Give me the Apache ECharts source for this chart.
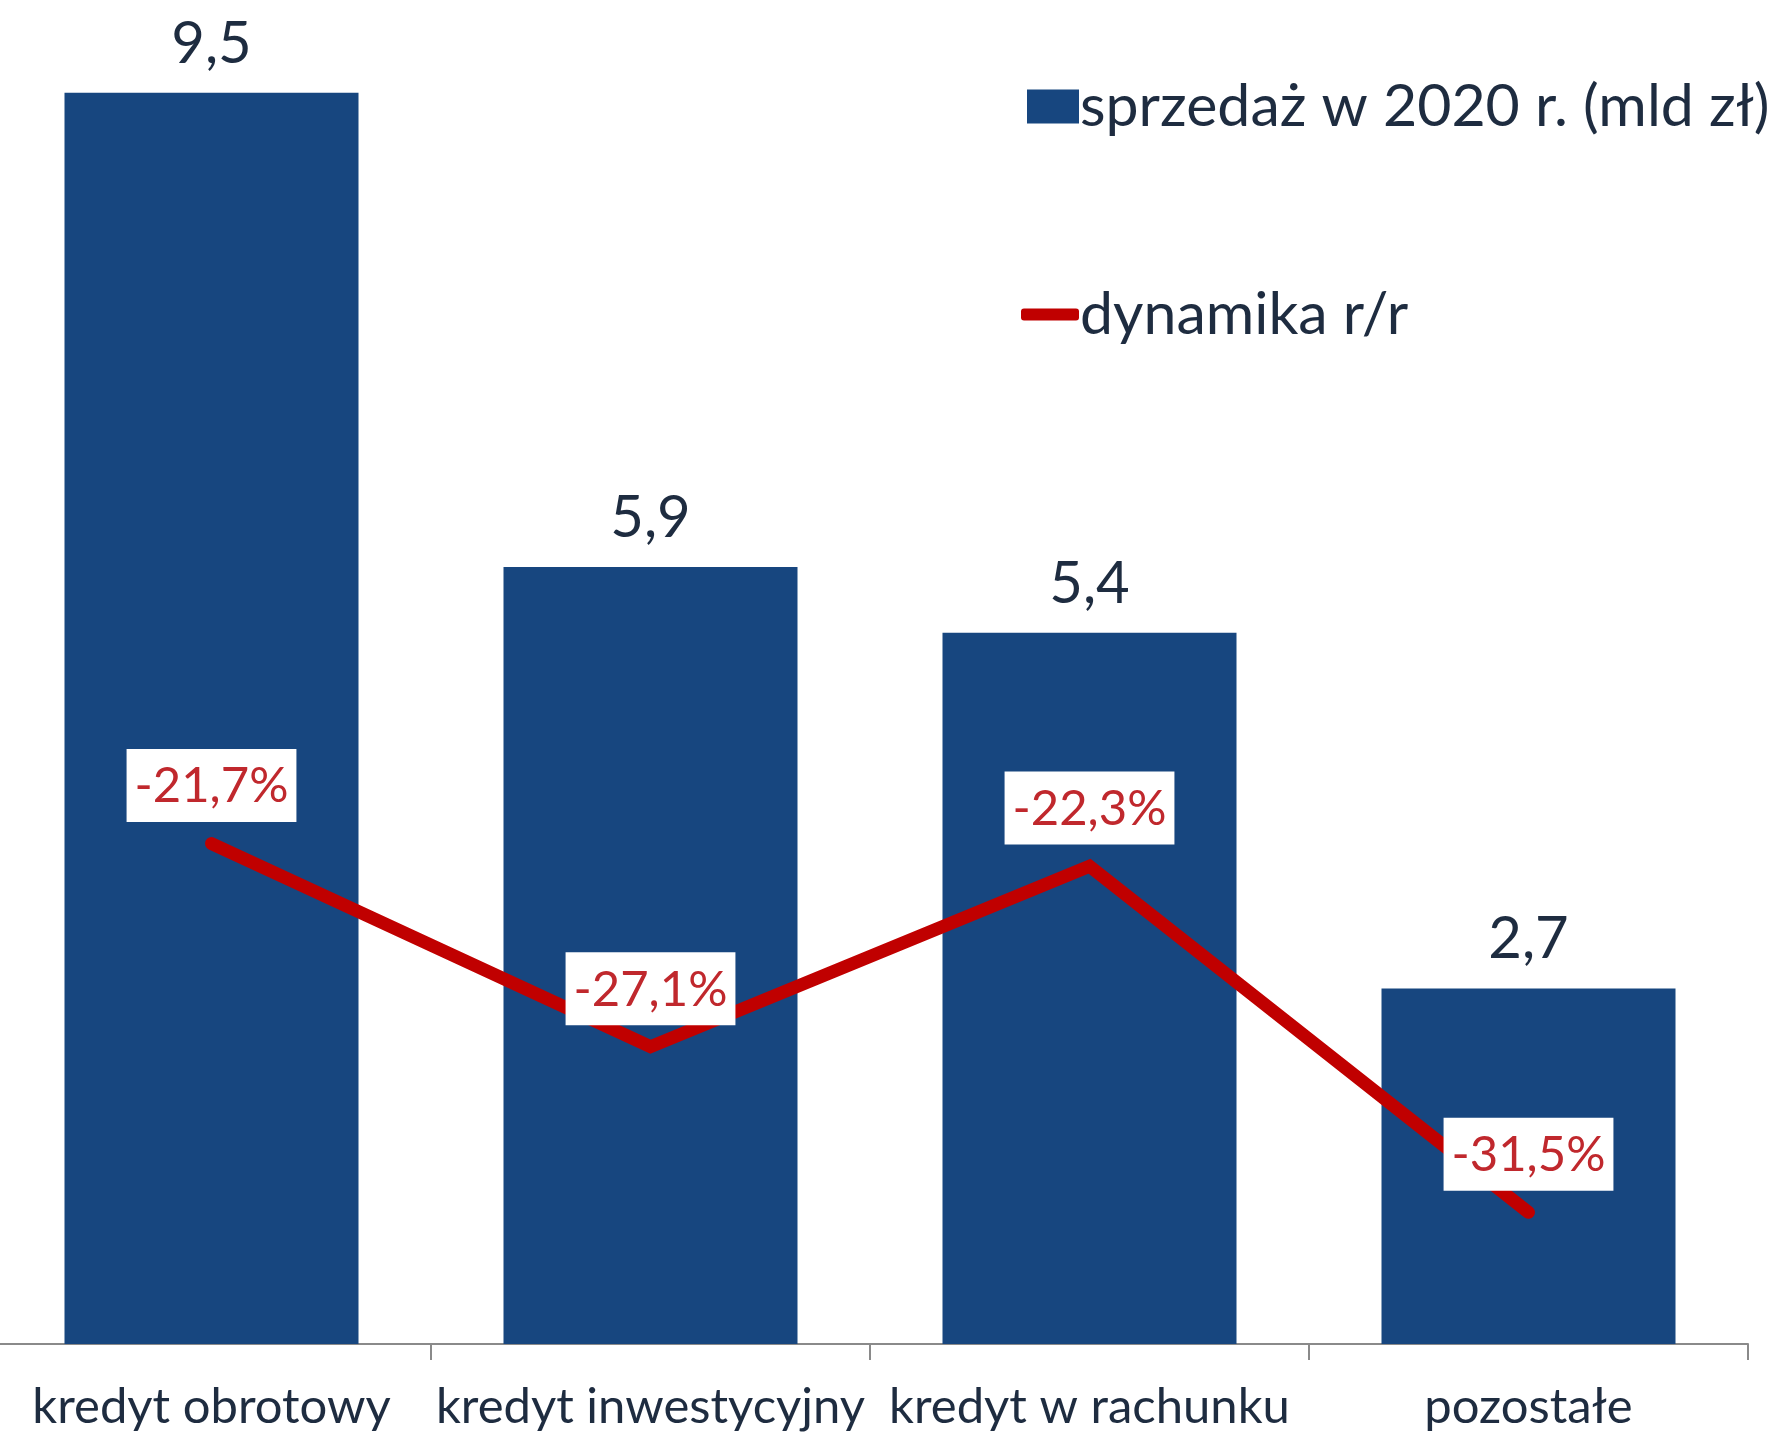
<!DOCTYPE html>
<html>
<head>
<meta charset="utf-8">
<script src="https://cdn.jsdelivr.net/npm/echarts@6/dist/echarts.min.js"></script>
<style>
  html, body { margin: 0; padding: 0; background: #fff; }
  #chart { width: 1782px; height: 1432px; }
</style>
</head>
<body>
<div id="chart"></div>
<script>
// kategorie kredytów
var categories = ["kredyt obrotowy", "kredyt inwestycyjny", "kredyt w rachunku", "pozostałe"];
// sprzedaż w 2020 r. (mld zł)
var sales = [9.5, 5.9, 5.4, 2.7];
// dynamika r/r (%)
var dynamics = [-21.7, -27.1, -22.3, -31.5];

var font = "Lato";
var comma = function(v) { return String(v).replace(".", ","); };

var myChart = echarts.init(document.getElementById("chart"));

myChart.setOption({
    backgroundColor: "#ffffff",
    textStyle: { fontFamily: font },
    grid: { left: -8, right: 34, top: 27, bottom: 88, containLabel: false, outerBoundsMode: "none" },
    legend: [{
        data: ["sprzedaż w 2020 r. (mld zł)"],
        left: 1022, top: 72,
        icon: "rect",
        itemWidth: 52, itemHeight: 34, itemGap: 0,
        textStyle: { fontSize: 59, color: "#1e2c40", padding: [0, 0, 0, -4] }
    }, {
        data: ["dynamika r/r"],
        left: 1016, top: 280,
        icon: "roundRect",
        itemWidth: 58, itemHeight: 12,
        itemStyle: { color: "#c00000" },
        textStyle: { fontSize: 59, color: "#1e2c40", padding: [0, 0, 0, -4] }
    }],
    xAxis: {
        type: "category",
        data: categories,
        axisLine: { lineStyle: { color: "#8a8a8a", width: 2 } },
        axisTick: { show: true, length: 16, lineStyle: { color: "#8a8a8a", width: 2 } },
        axisLabel: { interval: 0, hideOverlap: false, fontSize: 49, color: "#1e2c40", margin: 39, fontFamily: font }
    },
    yAxis: [{
        type: "value", min: 0, max: 10, show: false, splitLine: { show: false }
    }, {
        type: "value", min: -35, max: 0, show: false, splitLine: { show: false }
    }],
    series: [{
        name: "sprzedaż w 2020 r. (mld zł)",
        type: "bar",
        data: sales,
        barWidth: 294,
        itemStyle: { color: "#17467f" },
        label: {
            show: true, position: "top", distance: 20,
            fontSize: 58, color: "#1e2c40", fontFamily: font,
            formatter: function(p) { return comma(p.value); }
        }
    }, {
        name: "dynamika r/r",
        type: "line",
        yAxisIndex: 1,
        data: dynamics,
        symbol: "circle",
        symbolSize: 1,
        showSymbol: true,
        lineStyle: { color: "#c00000", width: 13, cap: "round", join: "miter" },
        itemStyle: { color: "#c00000" },
        z: 5,
        label: {
            show: true, position: "top", distance: 21,
            fontSize: 49, color: "#c0282d", fontFamily: font,
            backgroundColor: "#ffffff", padding: [13, 8, 11, 8],
            formatter: function(p) { return comma(p.value) + "%"; }
        }
    }]
});
</script>
</body>
</html>
